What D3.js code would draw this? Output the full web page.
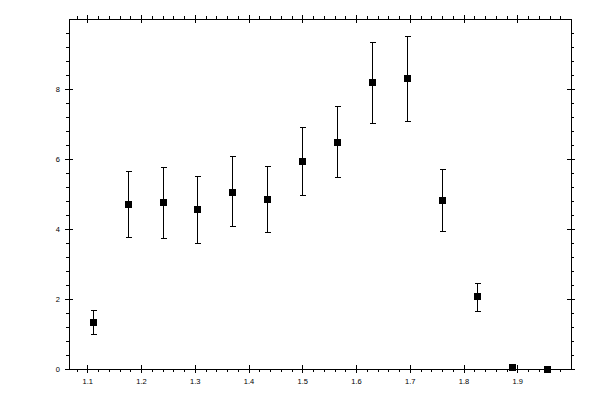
<!DOCTYPE html>
<html>
<head>
<meta charset="utf-8">
<script src="https://cdn.jsdelivr.net/npm/d3@7"></script>
<style>
  body { margin: 0; background: #fff; }
  .tick text { font-family: "Liberation Sans", sans-serif; font-size: 7.5px; fill: #000; }
</style>
</head>
<body>
<div id="chart"></div>
<script>
// data
var xValues = [1.11, 1.175, 1.24, 1.305, 1.37, 1.435, 1.5, 1.565, 1.63, 1.695, 1.76, 1.825, 1.89, 1.955];
var yValues = [1.34, 4.71, 4.76, 4.57, 5.07, 4.86, 5.94, 6.49, 8.20, 8.31, 4.83, 2.09, 0.06, 0.0];
var errLow  = [0.33, 0.94, 1.02, 0.98, 0.98, 0.95, 0.97, 1.00, 1.17, 1.22, 0.89, 0.43, 0.0, 0.0];
var errHigh = [0.35, 0.94, 1.00, 0.93, 1.02, 0.94, 0.96, 1.02, 1.13, 1.20, 0.87, 0.38, 0.0, 0.0];

var xTickLabels = [1.1, 1.2, 1.3, 1.4, 1.5, 1.6, 1.7, 1.8, 1.9];
var yTickLabels = [0, 2, 4, 6, 8];

var svgWidth = 600;
var svgHeight = 400;

var margin = { top: 19, right: 29, bottom: 31, left: 69 };
var width = svgWidth - margin.left - margin.right;
var height = svgHeight - margin.top - margin.bottom;

var svg = d3.select("#chart")
  .append("svg")
  .attr("width", svgWidth)
  .attr("height", svgHeight)
  .attr("shape-rendering", "crispEdges");

var chartGroup = svg.append("g")
  .attr("transform", `translate(${margin.left}, ${margin.top})`);

var xScale = d3.scaleLinear().domain([1.066, 2.0]).range([0, width]);
var yScale = d3.scaleLinear().domain([0, 10]).range([height, 0]);

// minor ticks: 0.02 on x, 0.4 on y
var xMinor = d3.range(54, 100).map(d => d / 50).filter(d => Math.round(d * 50) % 5 != 0);
var yMinor = d3.range(0, 26).map(d => +(d * 0.4).toFixed(1)).filter(d => Math.round(d * 10) % 20 != 0);

function styleAxis(g) {
  g.select(".domain").remove();
  g.selectAll("line").attr("stroke", "#000");
}

// bottom
chartGroup.append("g")
  .attr("transform", `translate(0, ${height})`)
  .call(d3.axisBottom(xScale).tickValues(xMinor).tickSize(3).tickFormat(""))
  .call(styleAxis);
chartGroup.append("g")
  .attr("transform", `translate(0, ${height})`)
  .call(d3.axisBottom(xScale).tickValues(xTickLabels).tickSize(4).tickPadding(6).tickFormat(d3.format(".1f")))
  .call(styleAxis)
  .call(g => g.selectAll("line").attr("y1", -4));

// top
chartGroup.append("g")
  .call(d3.axisTop(xScale).tickValues(xMinor).tickSize(3).tickFormat(""))
  .call(styleAxis);
chartGroup.append("g")
  .call(d3.axisTop(xScale).tickValues(xTickLabels).tickSize(4).tickFormat(""))
  .call(styleAxis)
  .call(g => g.selectAll("line").attr("y1", 4));

// left
chartGroup.append("g")
  .call(d3.axisLeft(yScale).tickValues(yMinor).tickSize(3).tickFormat(""))
  .call(styleAxis);
chartGroup.append("g")
  .call(d3.axisLeft(yScale).tickValues(yTickLabels).tickSize(4).tickPadding(5).tickFormat(d3.format("d")))
  .call(styleAxis)
  .call(g => g.selectAll("line").attr("x1", 4));

// right
chartGroup.append("g")
  .attr("transform", `translate(${width}, 0)`)
  .call(d3.axisRight(yScale).tickValues(yMinor).tickSize(3).tickFormat(""))
  .call(styleAxis);
chartGroup.append("g")
  .attr("transform", `translate(${width}, 0)`)
  .call(d3.axisRight(yScale).tickValues(yTickLabels).tickSize(4).tickFormat(""))
  .call(styleAxis)
  .call(g => g.selectAll("line").attr("x1", -4));

// frame
chartGroup.append("rect")
  .attr("x", 0.5)
  .attr("y", 0.5)
  .attr("width", width)
  .attr("height", height)
  .attr("fill", "none")
  .attr("stroke", "#000");

// error bars
var points = xValues.map((x, i) => ({ x: x, y: yValues[i], lo: yValues[i] - errLow[i], hi: yValues[i] + errHigh[i] }));
var bars = chartGroup.append("g").selectAll("g")
  .data(points.filter(d => d.hi - d.lo > 0))
  .join("g")
  .attr("stroke", "#000");

bars.append("line")
  .attr("x1", d => Math.round(xScale(d.x)) + 0.5)
  .attr("x2", d => Math.round(xScale(d.x)) + 0.5)
  .attr("y1", d => yScale(d.lo))
  .attr("y2", d => yScale(d.hi));
bars.append("line")
  .attr("x1", d => Math.round(xScale(d.x)) - 2.5)
  .attr("x2", d => Math.round(xScale(d.x)) + 3.5)
  .attr("y1", d => Math.round(yScale(d.lo)) + 0.5)
  .attr("y2", d => Math.round(yScale(d.lo)) + 0.5);
bars.append("line")
  .attr("x1", d => Math.round(xScale(d.x)) - 2.5)
  .attr("x2", d => Math.round(xScale(d.x)) + 3.5)
  .attr("y1", d => Math.round(yScale(d.hi)) + 0.5)
  .attr("y2", d => Math.round(yScale(d.hi)) + 0.5);

// markers
chartGroup.append("g").selectAll("rect")
  .data(points)
  .join("rect")
  .attr("x", d => Math.round(xScale(d.x)) - 3)
  .attr("y", d => Math.round(yScale(d.y)) - 3)
  .attr("width", 7)
  .attr("height", 7)
  .attr("fill", "#000");
</script>
</body>
</html>
